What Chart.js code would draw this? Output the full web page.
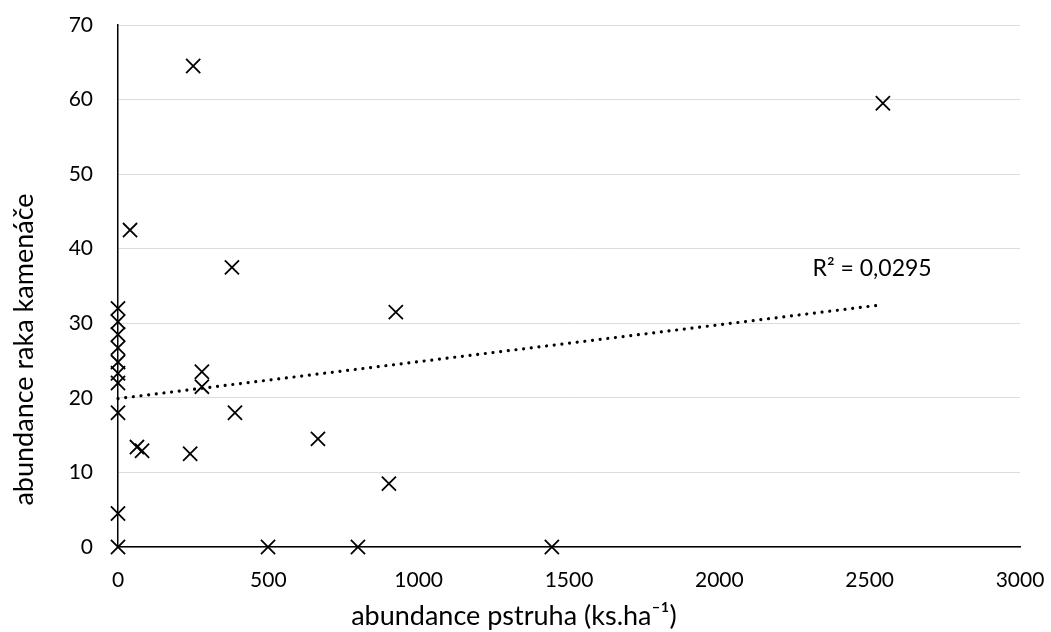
<!DOCTYPE html>
<html>
<head>
<meta charset="utf-8">
<script src="https://cdn.jsdelivr.net/npm/chart.js@4/dist/chart.umd.min.js"></script>
<style>
  html, body { margin: 0; padding: 0; background: #fff; }
  #wrap { width: 1051px; height: 632px; position: relative; }
</style>
</head>
<body>
<div id="wrap"><canvas id="c"></canvas></div>
<script>
// Data
const troutAbundance = [0, 0, 0, 0, 0, 0, 0, 0, 0, 0, 40, 63, 80, 240, 250, 279, 279, 379, 389, 499, 665, 798, 901, 924, 1443, 2544];
const crayfishAbundance = [32, 30.2, 28.5, 26.7, 24.8, 23.3, 22, 18, 4.5, 0, 42.5, 13.4, 12.9, 12.5, 64.5, 23.5, 21.5, 37.5, 18, 0, 14.5, 0, 8.5, 31.5, 0, 59.5];
const trendX = [0, 2545];
const trendY = [19.9, 32.5];
const r2Label = 'R² = 0,0295';
const r2LabelAt = [2310, 37.4];
const xTicks = [0, 500, 1000, 1500, 2000, 2500, 3000];
const yTicks = [0, 10, 20, 30, 40, 50, 60, 70];
const xTitle = 'abundance pstruha (ks.ha⁻¹)';
const yTitle = 'abundance raka kamenáče';

const FONT = 'Lato, "Open Sans", sans-serif';

const points = troutAbundance.map((x, i) => ({ x: x, y: crayfishAbundance[i] }));
const trend = trendX.map((x, i) => ({ x: x, y: trendY[i] }));

// R² label (placed in data coordinates) and the two axis titles
const textPlugin = {
  id: 'texts',
  afterDatasetsDraw(chart) {
    const ctx = chart.ctx;
    const xs = chart.scales.x, ys = chart.scales.y;
    ctx.save();
    ctx.fillStyle = '#000';
    ctx.font = '23px ' + FONT;
    ctx.textAlign = 'left';
    ctx.textBaseline = 'middle';
    ctx.fillText(r2Label, xs.getPixelForValue(r2LabelAt[0]), ys.getPixelForValue(r2LabelAt[1]));

    ctx.font = '27px ' + FONT;
    ctx.textAlign = 'center';
    ctx.textBaseline = 'alphabetic';
    ctx.fillText(xTitle, chart.width * 0.489, chart.height - 7);

    ctx.translate(33, chart.height * 0.553);
    ctx.rotate(-Math.PI / 2);
    ctx.fillText(yTitle, 0, 0);
    ctx.restore();
  }
};

new Chart(document.getElementById('c'), {
  type: 'scatter',
  data: {
    datasets: [
      {
        data: points,
        pointStyle: 'crossRot',
        pointRadius: 10,
        pointHoverRadius: 10,
        pointBorderWidth: 1.8,
        borderColor: '#000',
        backgroundColor: '#000',
        showLine: false,
        clip: false,
        order: 1
      },
      {
        type: 'line',
        data: trend,
        borderColor: '#000',
        borderWidth: 3.2,
        borderDash: [0.01, 7.7],
        borderCapStyle: 'round',
        pointRadius: 0,
        fill: false,
        clip: false,
        order: 2
      }
    ]
  },
  options: {
    responsive: true,
    maintainAspectRatio: false,
    animation: false,
    layout: { padding: { top: 25, right: 31, left: 0, bottom: 0 } },
    plugins: { legend: { display: false }, tooltip: { enabled: false } },
    scales: {
      x: {
        type: 'linear',
        min: 0, max: 3000,
        afterBuildTicks: (s) => { s.ticks = xTicks.map(v => ({ value: v })); },
        afterFit: (s) => { s.height = 85; },
        grid: { display: true, color: 'transparent', drawTicks: true, tickLength: 21, tickColor: 'transparent' },
        border: { display: true, color: '#000', width: 1.5 },
        ticks: { color: '#000', font: { family: FONT, size: 21 }, padding: 0, maxRotation: 0, callback: (v) => String(v) }
      },
      y: {
        type: 'linear',
        min: 0, max: 70,
        afterBuildTicks: (s) => { s.ticks = yTicks.map(v => ({ value: v })); },
        afterFit: (s) => { s.width = 118; },
        grid: { display: true, color: '#dcdcdc', lineWidth: 1, drawTicks: true, tickLength: 25, tickColor: 'transparent' },
        border: { display: true, color: '#000', width: 1.5 },
        ticks: { color: '#000', font: { family: FONT, size: 21 }, padding: 0, callback: (v) => String(v) }
      }
    }
  },
  plugins: [textPlugin]
});
</script>
</body>
</html>
